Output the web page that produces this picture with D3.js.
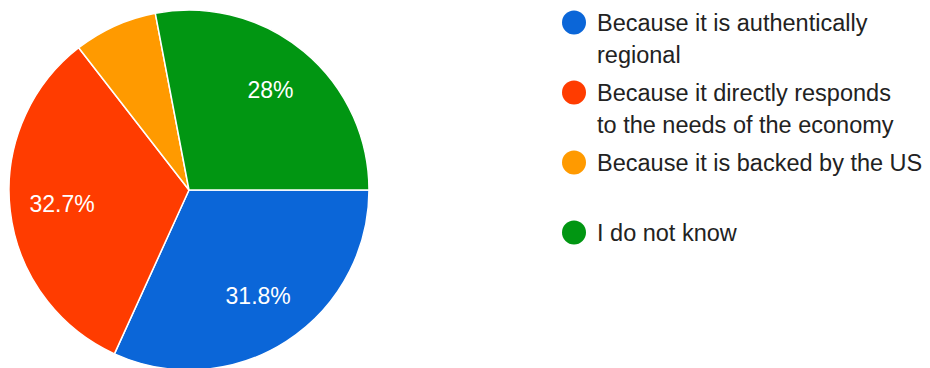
<!DOCTYPE html>
<html>
<head>
<meta charset="utf-8">
<script src="https://cdn.jsdelivr.net/npm/d3@7"></script>
<style>
  html, body { margin: 0; padding: 0; background: #fff; }
  svg { display: block; font-family: "Liberation Sans", Arial, sans-serif; }
</style>
</head>
<body>
<svg id="chart" width="930" height="368"></svg>
<script>
// Survey answers, in drawing order (clockwise from 3 o'clock)
const categories = [
  "Because it is authentically regional",
  "Because it directly responds to the needs of the economy",
  "Because it is backed by the US",
  "I do not know"
];
const values = [31.8, 32.7, 7.5, 28];
const valueLabels = ["31.8%", "32.7%", "", "28%"];
// Legend text, wrapped the way it is shown
const legendLines = [
  ["Because it is authentically", "regional"],
  ["Because it directly responds", "to the needs of the economy"],
  ["Because it is backed by the US"],
  ["I do not know"]
];
const colors = ["#0b66d8", "#ff3c00", "#ff9a00", "#019612"];

const svg = d3.select("#chart");
const cx = 189, cy = 190, r = 180;

const pie = d3.pie()
  .sort(null)
  .value(d => d)
  .startAngle(Math.PI / 2)
  .endAngle(Math.PI / 2 + 2 * Math.PI);

const arc = d3.arc().innerRadius(0).outerRadius(r);
const labelArc = d3.arc().innerRadius(r * 0.71).outerRadius(r * 0.71);

const arcs = pie(values);
const g = svg.append("g").attr("transform", `translate(${cx},${cy})`);

g.selectAll("path.slice")
  .data(arcs)
  .join("path")
  .attr("class", "slice")
  .attr("d", arc)
  .attr("fill", (d, i) => colors[i])
  .attr("stroke", "#fff")
  .attr("stroke-width", 1.5)
  .attr("stroke-linejoin", "round");

g.selectAll("text.val")
  .data(arcs)
  .join("text")
  .attr("class", "val")
  .attr("transform", d => `translate(${labelArc.centroid(d)})`)
  .attr("text-anchor", "middle")
  .attr("dy", "0.3em")
  .attr("fill", "#fff")
  .attr("font-size", 23)
  .text((d, i) => valueLabels[i]);

// Legend
const legend = svg.append("g").attr("transform", "translate(574,22.5)");
const item = legend.selectAll("g.item")
  .data(categories)
  .join("g")
  .attr("class", "item")
  .attr("transform", (d, i) => `translate(0,${i * 70})`);

item.append("circle")
  .attr("r", 12)
  .attr("fill", (d, i) => colors[i]);

item.append("text")
  .attr("y", 8.4)
  .attr("fill", "#222")
  .attr("font-size", 23.5)
  .selectAll("tspan")
  .data((d, i) => legendLines[i])
  .join("tspan")
  .attr("x", 23)
  .attr("dy", (d, j) => j === 0 ? 0 : 32)
  .text(d => d);
</script>
</body>
</html>
